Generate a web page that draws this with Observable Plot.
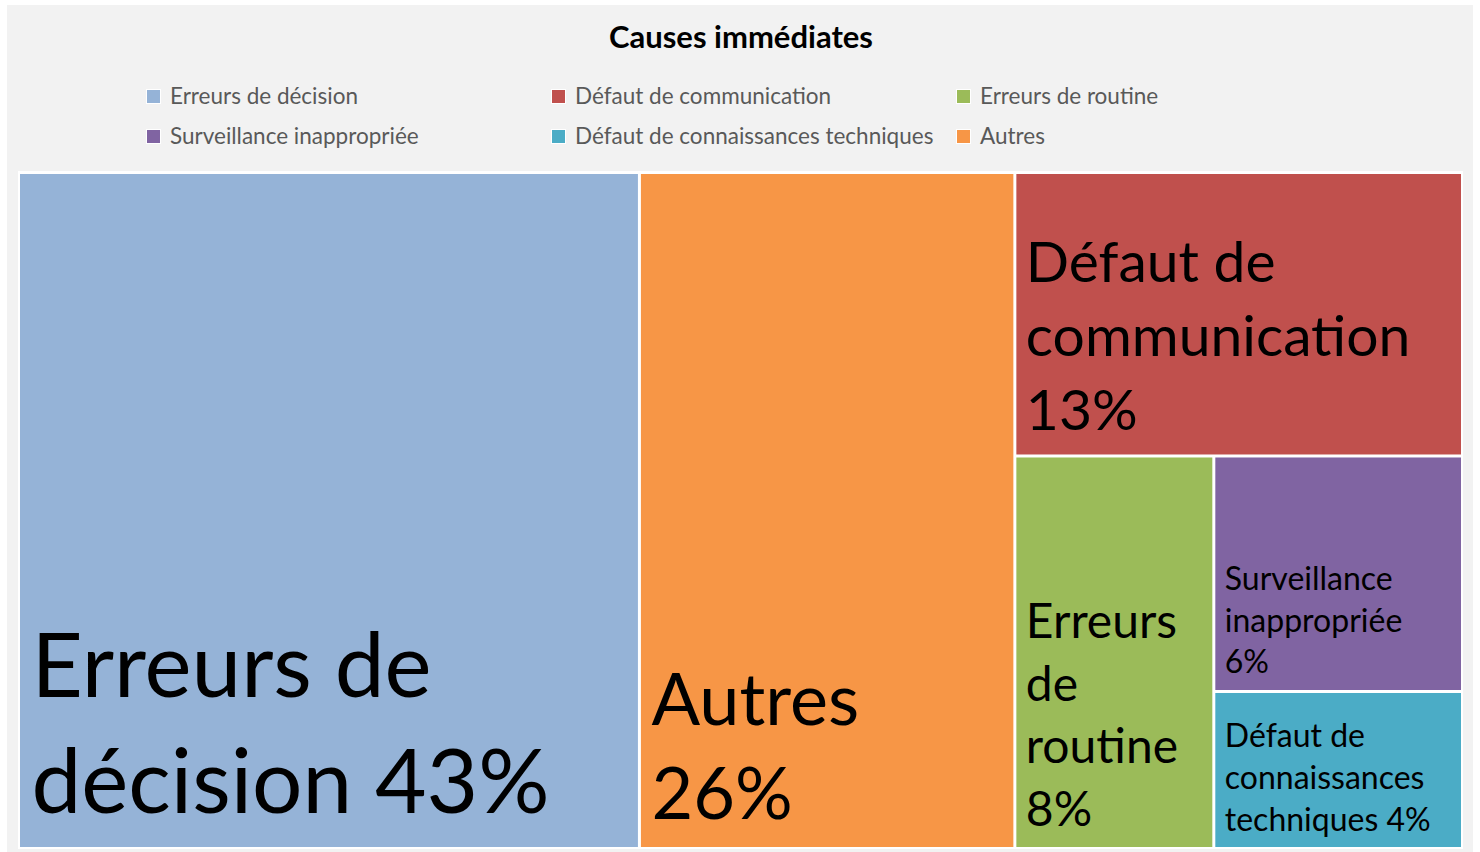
<!DOCTYPE html>
<html><head><meta charset="utf-8">
<script src="https://cdn.jsdelivr.net/npm/d3@7"></script>
<script src="https://cdn.jsdelivr.net/npm/@observablehq/plot@0.6"></script>
<style>
body{margin:0;background:#fff;width:1480px;height:852px;overflow:hidden;font-family:Lato,sans-serif;position:relative}
#panel{position:absolute;left:7px;top:5px;width:1466px;height:847px;background:#f2f2f2}
#title{position:absolute;left:0;top:21px;width:1482px;text-align:center;font-weight:bold;font-size:31px;line-height:1;color:#000}
#legend{position:absolute;left:146px;top:86px;display:grid;grid-template-columns:405px 405px 405px;row-gap:20px}
.item{display:flex;align-items:center;height:20px;line-height:20px;font-size:22.5px;color:#595959;white-space:nowrap}
.sw{width:13px;height:13px;border:1px solid #fff;margin-right:9px;box-sizing:content-box;flex:none}
#chart{position:absolute;left:18px;top:171px}
</style></head>
<body>
<div id="panel"></div>
<div id="title">Causes immédiates</div>
<div id="legend"></div>
<div id="chart"></div>
<script>
// ---- data ----
const categories = ["Erreurs de décision", "Défaut de communication", "Erreurs de routine", "Surveillance inappropriée", "Défaut de connaissances techniques", "Autres"];
const values = [43, 13, 8, 6, 4, 26];
const labelTexts = ["Erreurs de\ndécision ", "Défaut de\ncommunication\n", "Erreurs\nde\nroutine\n", "Surveillance\ninappropriée\n", "Défaut de\nconnaissances\ntechniques ", "Autres\n"];
const colors = ["#95B3D7", "#C0504D", "#9BBB59", "#8064A2", "#4BACC6", "#F79646"];

// ---- label styles (per category) ----
const labelStyle = {
  "Erreurs de décision": {size: 89, dx: 11, gap: 35},
  "Défaut de communication": {size: 57, dx: 9, gap: 25},
  "Erreurs de routine": {size: 48, dx: 9, gap: 22},
  "Surveillance inappropriée": {size: 32, dx: 9, gap: 17},
  "Défaut de connaissances techniques": {size: 32, dx: 9, gap: 17},
  "Autres": {size: 72, dx: 10, gap: 29}
};

// legend
const legend = document.getElementById("legend");
categories.forEach((c, i) => {
  const d = document.createElement("div");
  d.className = "item";
  d.innerHTML = `<span class="sw" style="background:${colors[i]}"></span><span>${c}</span>`;
  legend.appendChild(d);
});

// treemap layout
const W = 1441, H = 673;
const root = d3.hierarchy({children: categories.map((name, i) => ({name, value: values[i], label: labelTexts[i] + values[i] + "%"}))})
  .sum(d => d.value || 0)
  .sort((a, b) => b.value - a.value);
d3.treemap().size([W, H]).paddingInner(3).tile(d3.treemapSquarify.ratio(1))(root);
const cells = root.leaves().map(l => ({name: l.data.name, value: l.data.value, label: l.data.label, x0: l.x0, x1: l.x1, y0: l.y0, y1: l.y1}));

const textMarks = cells.map(c => {
  const s = labelStyle[c.name];
  return Plot.text([c], {x: "x0", y: "y1", text: "label", fill: "#000", fontSize: s.size, lineAnchor: "bottom", textAnchor: "start", lineHeight: 1.3, dx: s.dx, dy: -s.gap, fontFamily: "Lato"});
});

const chart = Plot.plot({
  width: 1445, height: 678,
  marginLeft: 2, marginRight: 2, marginTop: 3, marginBottom: 2,
  x: {domain: [0, W], axis: null},
  y: {domain: [0, H], range: [3, 676], axis: null},
  color: {domain: categories, range: colors},
  style: {background: "#fff", fontFamily: "Lato"},
  marks: [
    Plot.rect(cells, {x1: "x0", x2: "x1", y1: "y0", y2: "y1", fill: "name"}),
    ...textMarks
  ]
});
document.getElementById("chart").appendChild(chart);
</script>
</body></html>
